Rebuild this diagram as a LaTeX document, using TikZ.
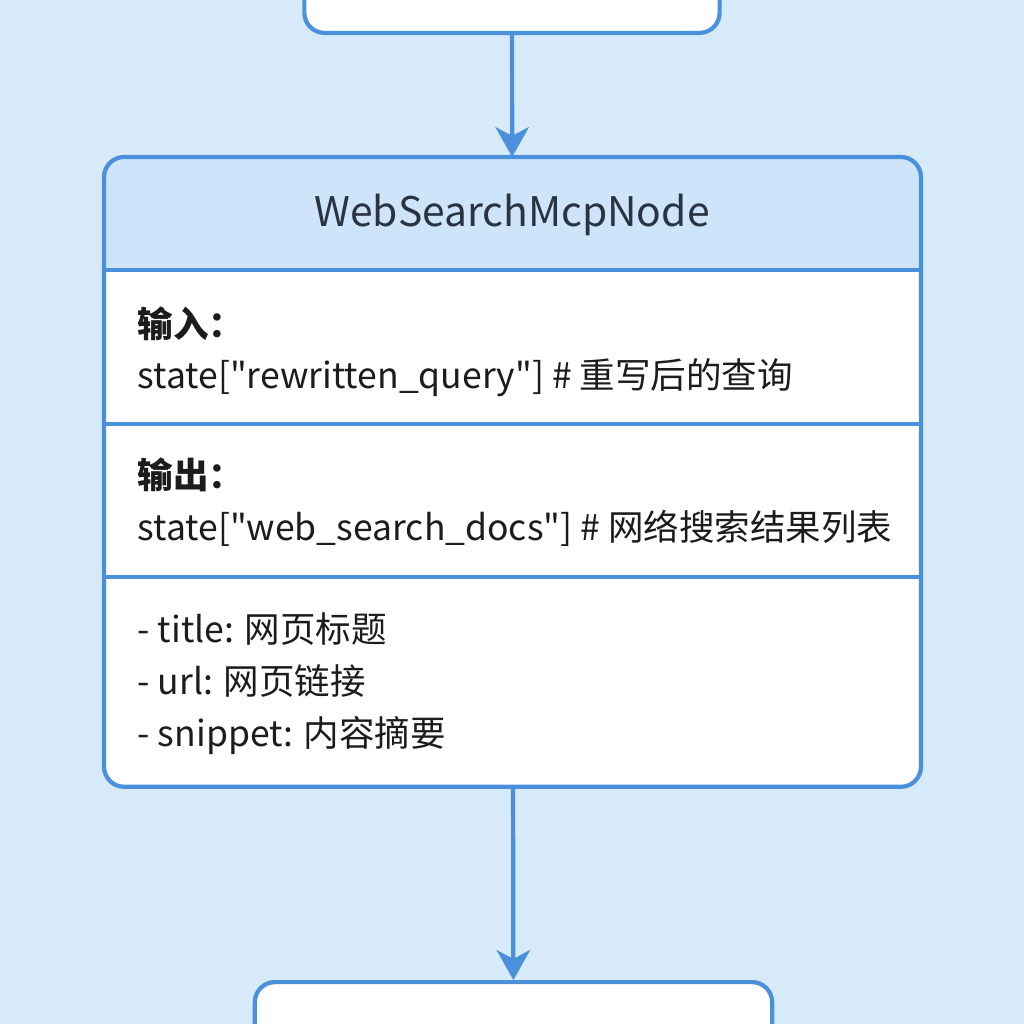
\documentclass[tikz,border=0pt]{standalone}
\usepackage{fontspec}
\newfontfamily\cjk{Noto Sans CJK SC}
\usetikzlibrary{arrows.meta}
\definecolor{bgblue}{HTML}{D6EAFA}
\definecolor{lineblue}{HTML}{4A90DB}
\definecolor{headblue}{HTML}{CDE4FB}
\definecolor{textdark}{HTML}{1C1C1C}
\definecolor{headtext}{HTML}{2A3340}

\begin{document}
\begin{tikzpicture}[x=0.01cm, y=-0.01cm,
    box/.style={fill=white, rounded corners=0.2cm},
    frame/.style={draw=lineblue, line width=1.2pt, rounded corners=0.2cm},
    divider/.style={draw=lineblue, line width=1.2pt},
    flow/.style={draw=lineblue, line width=1.2pt, -{Stealth[length=8.5pt, width=9.5pt, inset=2.5pt]}},
    body/.style={anchor=base west, inner sep=0pt, text=textdark, font=\cjk\fontsize{10.1}{12}\selectfont},
    label/.style={body, font=\cjk\fontsize{10.1}{12}\selectfont\bfseries},
    heading/.style={inner sep=0pt, text=headtext, font=\cjk\fontsize{11.6}{13}\selectfont}]
    \fill[bgblue] (0,0) rectangle (1024,1024);
    \clip (0,0) rectangle (1024,1024);

    % boxes
    \node[box, frame, minimum width=4.15cm, minimum height=1.2cm, anchor=south] (prev) at (512,35) {};
    \node[box, minimum width=8.15cm, minimum height=6.28cm, anchor=north] (mcp) at (512.5,157) {};
    \node[box, frame, minimum width=5.17cm, minimum height=1.2cm, anchor=north] (next) at (513.5,980) {};

    \foreach \n/\y in {a/270, b/424, c/577} {
        \coordinate (cut\n) at (512,\y);
    }
    \fill[headblue] (mcp.west |- cuta) [rounded corners=0.2cm] -- (mcp.north west)
        -- (mcp.north east) [sharp corners] -- (mcp.east |- cuta) -- cycle;
    \foreach \n in {a, b, c} {
        \draw[divider] (mcp.west |- cut\n) -- (mcp.east |- cut\n);
    }
    \draw[frame] (mcp.north west) rectangle (mcp.south east);

    % texts
    \node[heading] (title) at (512,215) {WebSearchMcpNode};
    \node[label] (inlabel) at (137,337) {输入：};
    \node[body] (inval) at (137,388) {state["rewritten\_query"] \# 重写后的查询};
    \node[label] (outlabel) at (137,488) {输出：};
    \node[body] (outval) at (137,540) {state["web\_search\_docs"] \# 网络搜索结果列表};
    \node[body] (ftitle) at (137,642) {- title: 网页标题};
    \node[body] (furl) at (137,694) {- url: 网页链接};
    \node[body] (fsnip) at (137,746) {- snippet: 内容摘要};

    % connectors
    \draw[flow] (prev) -- (mcp);
    \draw[flow] (mcp) -- (next);
\end{tikzpicture}
\end{document}
